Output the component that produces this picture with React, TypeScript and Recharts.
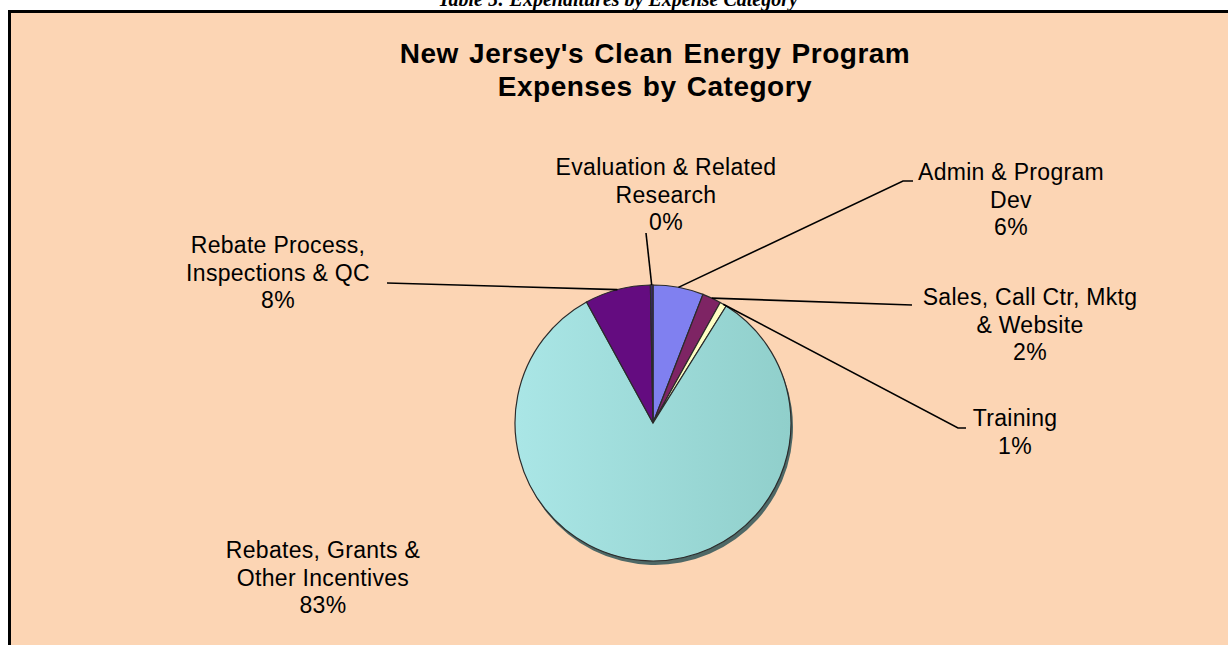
import { PieChart, Pie, Cell } from 'recharts';

// slices clockwise from 12 o'clock, values in % of total expenses
const categories = [
    "Admin & Program Dev",
    "Sales, Call Ctr, Mktg & Website",
    "Training",
    "Rebates, Grants & Other Incentives",
    "Rebate Process, Inspections & QC",
    "Evaluation & Related Research",
];
const shares = [5.9, 2.2, 0.8, 83.1, 7.7, 0.3];
const labelLines = [
    ["Admin & Program", "Dev"],
    ["Sales, Call Ctr, Mktg", "& Website"],
    ["Training"],
    ["Rebates, Grants &", "Other Incentives"],
    ["Rebate Process,", "Inspections & QC"],
    ["Evaluation & Related", "Research"],
];
const sliceColors = ["#8080F0", "#7E2464", "#FFFFC4", "url(#rebateFill)", "#640C80", "#3A2A6A"];

// where excel's labels were dragged to (text centre / first baseline, leader tail)
const labelLayout: { x: number, y: number, tail?: number[][] }[] = [
    { x: 1011, y: 180, tail: [[903, 181], [913, 181]] },
    { x: 1030, y: 305, tail: [[912, 305]] },
    { x: 1015, y: 426, tail: [[958, 428], [966, 428]] },
    { x: 323, y: 558 },
    { x: 278, y: 253, tail: [[387, 283]] },
    { x: 666, y: 175, tail: [[646, 233]] },
];

const rows = categories.map((name, i) => ({ name, value: shares[i] }));

const FONT = "'Liberation Sans', Arial, sans-serif";
const RAD = Math.PI / 180;

function renderLabel(props: any) {
    const { cx, cy, midAngle, outerRadius, index, percent } = props;
    const pos = labelLayout[index];
    const lines = [...labelLines[index], `${Math.round(percent * 100)}%`];
    const sx = cx + outerRadius * Math.cos(-midAngle * RAD);
    const sy = cy + outerRadius * Math.sin(-midAngle * RAD);
    const pts = pos.tail ? [[sx, sy], ...pos.tail] : null;
    return (
        <g key={`lbl-${index}`}>
            {pts && (
                <polyline
                    points={pts.map(p => p.join(',')).join(' ')}
                    fill="none"
                    stroke="#000"
                    strokeWidth={1.6}
                />
            )}
            <text textAnchor="middle" fontFamily={FONT} fontSize={23} letterSpacing={0.3} fill="#000">
                {lines.map((t, i) => (
                    <tspan key={i} x={pos.x} y={pos.y + i * 27.5}>{t}</tspan>
                ))}
            </text>
        </g>
    );
}

export default function App() {
    // chart has the default 5px margin, so this lands at (653, 423) on the page
    const cx = 648, cy = 418, r = 138;
    return (
        <div style={{ position: 'fixed', left: 0, top: 0, width: 1228, height: 645, overflow: 'hidden', background: '#fff' }}>
            <div style={{
                position: 'absolute', left: 0, width: 1236, top: -11, textAlign: 'center',
                fontFamily: "'Liberation Serif', 'Times New Roman', serif", fontStyle: 'italic',
                fontWeight: 'bold', fontSize: 20, lineHeight: '20px', whiteSpace: 'nowrap'
            }}>
                Table 5: Expenditures by Expense Category
            </div>
            <div style={{
                position: 'absolute', left: 8, top: 10, width: 1300, height: 700,
                borderLeft: '3px solid #000', borderTop: '3px solid #000', background: '#FCD5B4'
            }} />
            <div style={{ position: 'absolute', left: 0, top: 0 }}>
                <PieChart width={1228} height={645}>
                    <defs>
                        <linearGradient id="rebateFill" x1="0" y1="0" x2="1" y2="0">
                            <stop offset="0%" stopColor="#AAE6E6" />
                            <stop offset="100%" stopColor="#90CFCB" />
                        </linearGradient>
                    </defs>
                    <Pie
                        data={rows}
                        dataKey="value"
                        cx={cx + 2}
                        cy={cy + 4}
                        outerRadius={r}
                        startAngle={90}
                        endAngle={-270}
                        fill="#4E6866"
                        stroke="none"
                        isAnimationActive={false}
                    />
                    <Pie
                        data={rows}
                        dataKey="value"
                        nameKey="name"
                        cx={cx}
                        cy={cy}
                        outerRadius={r}
                        startAngle={90}
                        endAngle={-270}
                        stroke="#2b2b2b"
                        strokeWidth={1.2}
                        label={renderLabel}
                        labelLine={false}
                        isAnimationActive={false}
                    >
                        {rows.map((row, i) => <Cell key={row.name} fill={sliceColors[i]} />)}
                    </Pie>
                </PieChart>
            </div>
            <div style={{
                position: 'absolute', left: 0, width: 1310, top: 37, textAlign: 'center',
                fontFamily: FONT, fontWeight: 'bold', fontSize: 28, lineHeight: '33px',
                letterSpacing: 0.5, wordSpacing: 2
            }}>
                New Jersey's Clean Energy Program<br />Expenses by Category
            </div>
        </div>
    );
}
